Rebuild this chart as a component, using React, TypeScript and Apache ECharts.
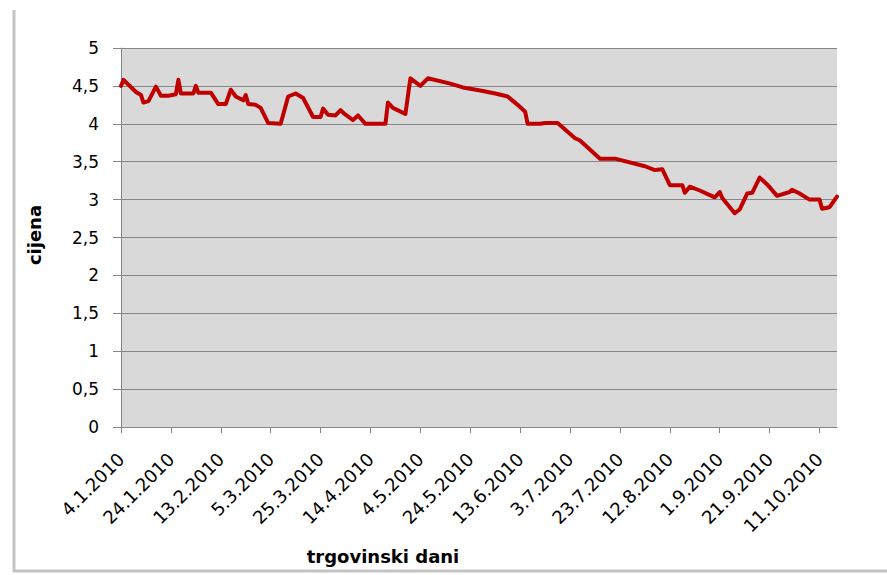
import React, { useEffect, useRef } from "react";
import * as echarts from "echarts";

const dates: string[] = [
  "4.1.2010", "5.1.2010", "10.1.2010", "12.1.2010", "13.1.2010", "15.1.2010", "18.1.2010", "20.1.2010",
  "23.1.2010", "26.1.2010", "27.1.2010", "28.1.2010", "2.2.2010", "3.2.2010", "4.2.2010", "9.2.2010",
  "12.2.2010", "15.2.2010", "17.2.2010", "19.2.2010", "22.2.2010", "23.2.2010", "24.2.2010", "27.2.2010",
  "1.3.2010", "4.3.2010", "9.3.2010", "12.3.2010", "15.3.2010", "18.3.2010", "22.3.2010", "25.3.2010",
  "26.3.2010", "28.3.2010", "31.3.2010", "2.4.2010", "4.4.2010", "7.4.2010", "9.4.2010", "12.4.2010",
  "20.4.2010", "21.4.2010", "23.4.2010", "28.4.2010", "30.4.2010", "4.5.2010", "7.5.2010", "16.5.2010",
  "21.5.2010", "28.5.2010", "3.6.2010", "8.6.2010", "12.6.2010", "15.6.2010", "16.6.2010", "21.6.2010",
  "23.6.2010", "28.6.2010", "5.7.2010", "7.7.2010", "15.7.2010", "21.7.2010", "2.8.2010", "6.8.2010",
  "9.8.2010", "12.8.2010", "17.8.2010", "18.8.2010", "20.8.2010", "24.8.2010", "30.8.2010", "1.9.2010",
  "2.9.2010", "7.9.2010", "9.9.2010", "12.9.2010", "14.9.2010", "17.9.2010", "20.9.2010", "24.9.2010",
  "29.9.2010", "30.9.2010", "3.10.2010", "7.10.2010", "11.10.2010", "12.10.2010", "15.10.2010", "18.10.2010",
];

const prices: number[] = [
  4.50, 4.58, 4.42, 4.38, 4.28, 4.30, 4.49, 4.37,
  4.37, 4.39, 4.58, 4.40, 4.40, 4.50, 4.41, 4.41,
  4.26, 4.26, 4.45, 4.36, 4.31, 4.38, 4.26, 4.25,
  4.21, 4.01, 4.00, 4.36, 4.40, 4.34, 4.09, 4.09,
  4.20, 4.12, 4.11, 4.18, 4.12, 4.05, 4.11, 4.00,
  4.00, 4.28, 4.21, 4.13, 4.60, 4.50, 4.60, 4.53,
  4.48, 4.44, 4.40, 4.36, 4.25, 4.16, 4.00, 4.00,
  4.01, 4.01, 3.81, 3.78, 3.54, 3.54, 3.44, 3.39,
  3.40, 3.19, 3.19, 3.09, 3.17, 3.12, 3.03, 3.10,
  3.02, 2.82, 2.87, 3.08, 3.09, 3.29, 3.20, 3.05,
  3.10, 3.13, 3.08, 3.00, 3.00, 2.88, 2.90, 3.04,
];

const startDate = "4.1.2010";
const endDate = "18.10.2010";
const labelStepDays = 20;
const yTicks = [0, 0.5, 1, 1.5, 2, 2.5, 3, 3.5, 4, 4.5, 5];

const xTitle = "trgovinski dani";
const yTitle = "cijena";

function parseDate(s: string): number {
  const [d, m, y] = s.split(".").map(Number);
  return Date.UTC(y, m - 1, d);
}
const DAY = 86400000;
const t0 = parseDate(startDate);
function dayIndex(s: string): number {
  return Math.round((parseDate(s) - t0) / DAY);
}
function dayLabel(i: number): string {
  const d = new Date(t0 + i * DAY);
  return `${d.getUTCDate()}.${d.getUTCMonth() + 1}.${d.getUTCFullYear()}`;
}

export default function App() {
  const ref = useRef<HTMLDivElement>(null);
  useEffect(() => {
    if (!ref.current) return;
    const chart = echarts.init(ref.current, undefined, { renderer: "svg" });
    const maxDay = dayIndex(endDate);
    const tickVals: number[] = [];
    for (let v = 0; v <= maxDay; v += labelStepDays) tickVals.push(v);
    const seriesData = dates.map((d, i) => [dayIndex(d), prices[i]]);
    const grey = "#868686";
    chart.setOption({
      animation: false,
      backgroundColor: "#ffffff",
      grid: { left: 121, right: 50, top: 48, bottom: 148, show: true, backgroundColor: "#D9D9D9", borderWidth: 0 },
      xAxis: {
        type: "value",
        min: 0,
        max: maxDay,
        interval: labelStepDays,
        axisLine: { show: true, onZero: false, lineStyle: { color: grey, width: 1 } },
        axisTick: { show: true, length: 6, lineStyle: { color: grey }, customValues: tickVals },
        splitLine: { show: false },
        axisLabel: {
          customValues: tickVals,
          rotate: 45,
          margin: 29,
          formatter: (v: number) => dayLabel(v),
          color: "#000",
          fontFamily: "DejaVu Sans",
          fontSize: 18,
        },
      },
      yAxis: {
        type: "value",
        min: yTicks[0],
        max: yTicks[yTicks.length - 1],
        interval: 0.5,
        axisLine: { show: true, lineStyle: { color: grey, width: 1 } },
        axisTick: { show: true, length: 8, lineStyle: { color: grey } },
        splitLine: { show: true, lineStyle: { color: grey, width: 1.2 } },
        axisLabel: {
          margin: 22,
          formatter: (v: number) => String(v).replace(".", ","),
          color: "#000",
          fontFamily: "DejaVu Sans",
          fontSize: 17,
        },
      },
      series: [
        {
          type: "line",
          data: seriesData,
          showSymbol: false,
          lineStyle: { color: "#C00000", width: 4, join: "round", cap: "round" },
          z: 5,
        },
      ],
      graphic: [
        { type: "line", shape: { x1: 14, y1: 10, x2: 14, y2: 572 }, style: { stroke: "#c4c4c4", lineWidth: 3 } },
        { type: "line", shape: { x1: 13, y1: 571, x2: 887, y2: 571 }, style: { stroke: "#c4c4c4", lineWidth: 3 } },
        {
          type: "text",
          x: 383,
          y: 556,
          style: { text: xTitle, fontFamily: "DejaVu Sans", fontWeight: "bold", fontSize: 18, fill: "#000", textAlign: "center", textVerticalAlign: "middle" },
        },
        {
          type: "text",
          x: 34,
          y: 235,
          rotation: Math.PI / 2,
          style: { text: yTitle, fontFamily: "DejaVu Sans", fontWeight: "bold", fontSize: 18, fill: "#000", textAlign: "center", textVerticalAlign: "middle" },
        },
      ],
    });
    return () => chart.dispose();
  }, []);
  return <div ref={ref} style={{ position: "fixed", left: 0, top: 0, width: 887, height: 575 }} />;
}
